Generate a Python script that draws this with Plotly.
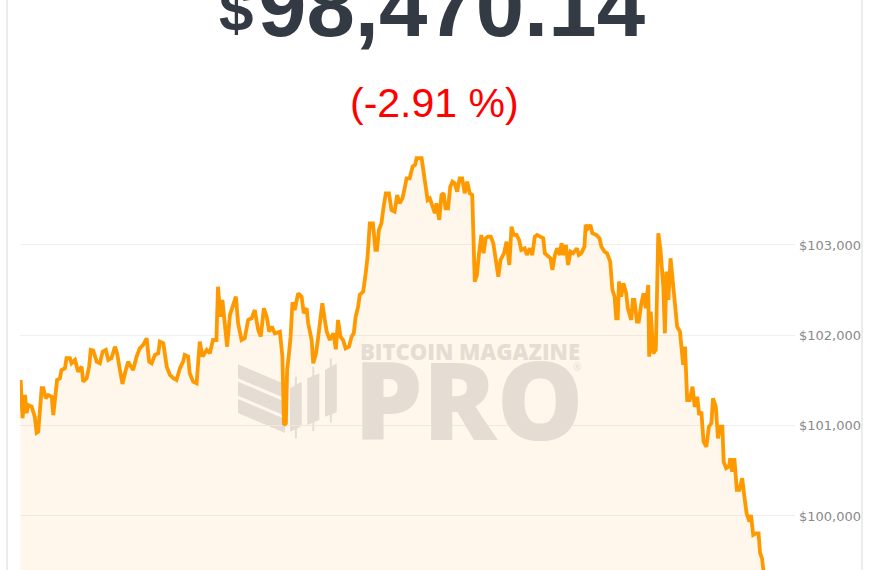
import plotly.graph_objects as go

# ---- data (hours since start, BTC price USD) ----
hours = [0.00, 0.06, 0.14, 0.19, 0.24, 0.35, 0.45, 0.51, 0.56, 0.67, 0.72, 0.80, 0.88, 0.99, 1.04, 1.09,
         1.16, 1.25, 1.30, 1.41, 1.46, 1.57, 1.62, 1.73, 1.83, 1.94, 1.99, 2.10, 2.18, 2.23, 2.31, 2.42,
         2.52, 2.61, 2.71, 2.79, 2.89, 3.00, 3.07, 3.16, 3.24, 3.32, 3.42, 3.58, 3.69, 3.79, 3.90, 4.01,
         4.09, 4.17, 4.27, 4.38, 4.43, 4.54, 4.65, 4.75, 4.86, 4.96, 5.07, 5.17, 5.22, 5.33, 5.38, 5.49,
         5.60, 5.70, 5.79, 5.92, 6.02, 6.12, 6.23, 6.28, 6.36, 6.42, 6.50, 6.57, 6.66, 6.76, 6.85, 6.92,
         7.03, 7.13, 7.24, 7.35, 7.45, 7.56, 7.64, 7.74, 7.83, 7.91, 7.99, 8.09, 8.25, 8.33, 8.38, 8.44,
         8.48, 8.54, 8.59, 8.65, 8.72, 8.83, 8.94, 9.01, 9.10, 9.15, 9.26, 9.31, 9.40, 9.47, 9.52, 9.60,
         9.68, 9.74, 9.84, 9.95, 10.03, 10.10, 10.18, 10.26, 10.34, 10.45, 10.53, 10.60, 10.66, 10.74,
         10.79, 10.90, 10.98, 11.04, 11.11, 11.21, 11.29, 11.34, 11.40, 11.48, 11.55, 11.62, 11.72, 11.80,
         11.90, 11.98, 12.06, 12.15, 12.22, 12.28, 12.38, 12.47, 12.55, 12.60, 12.76, 12.83, 12.89, 12.95,
         13.02, 13.10, 13.18, 13.23, 13.32, 13.39, 13.46, 13.52, 13.60, 13.67, 13.74, 13.81, 13.89, 13.97,
         14.05, 14.13, 14.21, 14.29, 14.37, 14.45, 14.52, 14.58, 14.66, 14.73, 14.80, 14.87, 14.96, 15.04,
         15.12, 15.20, 15.27, 15.38, 15.46, 15.55, 15.62, 15.69, 15.78, 15.86, 15.93, 16.04, 16.11, 16.20,
         16.28, 16.36, 16.43, 16.63, 16.68, 16.86, 16.92, 17.00, 17.07, 17.16, 17.21, 17.29, 17.35, 17.42,
         17.50, 17.58, 17.70, 17.76, 17.84, 17.94, 17.98, 18.05, 18.13, 18.19, 18.32, 18.42, 18.48, 18.58,
         18.66, 18.76, 18.83, 18.90, 18.95, 19.00, 19.04, 19.11, 19.18, 19.27, 19.32, 19.43, 19.48, 19.53,
         19.61, 19.67, 19.75, 19.82, 19.89, 19.97, 20.00, 20.05, 20.13, 20.21, 20.29, 20.36, 20.45, 20.50,
         20.55, 20.61, 20.68, 20.75, 20.82, 20.89, 20.98, 21.03, 21.08, 21.14, 21.21, 21.29, 21.38, 21.45,
         21.53, 21.59, 21.66, 21.73, 21.82, 21.90, 21.98, 22.03, 22.12, 22.19, 22.26, 22.33, 22.37, 22.45,
         22.54, 22.58, 22.64, 22.71, 22.79, 22.87, 22.96, 23.03, 23.10, 23.19, 23.24, 23.31, 23.40, 23.48,
         23.53, 23.59, 23.64, 23.80, 23.95]

prices = [101506, 101082, 101339, 101137, 101229, 101210, 101099, 100922, 100933, 101414, 101414, 101303,
          101339, 101321, 101118, 101321, 101506, 101524, 101616, 101635, 101746, 101746, 101690, 101727,
          101597, 101653, 101487, 101524, 101653, 101838, 101830, 101708, 101690, 101819, 101838, 101727,
          101746, 101874, 101801, 101616, 101461, 101580, 101708, 101616, 101764, 101856, 101893, 101967,
          101708, 101690, 101782, 101801, 101930, 101912, 101653, 101561, 101524, 101506, 101635, 101708,
          101782, 101764, 101580, 101487, 101469, 101930, 101764, 101838, 101801, 101948, 101948, 102538,
          102206, 102391, 102059, 101874, 102225, 102317, 102428, 102133, 101948, 101967, 102170, 102188,
          102280, 102059, 101985, 102299, 102206, 102040, 102096, 102022, 102040, 101764, 101007, 101026,
          101616, 101801, 101985, 102366, 102280, 102465, 102428, 102244, 102299, 102133, 101948, 101690,
          101801, 101985, 102151, 102355, 102170, 102040, 101948, 102022, 101845, 102170, 101985, 101948,
          101856, 101874, 101985, 102022, 102206, 102317, 102447, 102483, 102687, 102871, 103240, 103240,
          102945, 102945, 103166, 103240, 103424, 103572, 103572, 103387, 103369, 103553, 103461, 103517,
          103628, 103738, 103738, 103867, 103886, 103960, 103960, 103794, 103701, 103498, 103517, 103424,
          103351, 103461, 103277, 103553, 103572, 103406, 103406, 103645, 103701, 103683, 103590, 103738,
          103738, 103572, 103701, 103572, 103553, 102594, 102668, 102889, 103111, 102908, 103074, 103092,
          103092, 103019, 102834, 102649, 102834, 102908, 103037, 102779, 103203, 103111, 103111, 103055,
          102945, 102963, 102889, 102963, 102889, 103092, 103111, 103074, 102908, 102853, 102723, 102889,
          102963, 102889, 103019, 102889, 103000, 102779, 102926, 102908, 102963, 102889, 102908, 102981,
          103222, 103185, 103222, 103130, 103111, 103074, 102981, 102926, 102908, 102815, 102502, 102428,
          102188, 102188, 102594, 102428, 102576, 102465, 102299, 102170, 102391, 102391, 102151, 102151,
          102355, 102465, 102299, 102557, 101764, 102262, 101801, 101838, 103130, 102945, 102538, 102022,
          102705, 102391, 102853, 102576, 102280, 102096, 102040, 101874, 101672, 101874, 101284, 101284,
          101431, 101210, 101321, 101118, 101155, 100822, 100767, 100989, 101026, 101303, 101210, 100860,
          100989, 100989, 100601, 100528, 100546, 100639, 100490, 100639, 100288, 100288, 100417, 100214,
          100030, 99937, 100011, 99790, 99808, 99808, 99587, 99532, 99402, 99050, 98470.14]

tick_vals = [100000, 101000, 102000, 103000]
tick_text = ["$100,000", "$101,000", "$102,000", "$103,000"]
last_price_text = "98,470.14"
change_text = "(-2.91 %)"
watermark_top = "BITCOIN MAGAZINE"
watermark_main = "PRO"

# ---- layout geometry (pixels of the 870x570 page) ----
W, H = 870, 570
L, R, T, B = 20, 75, 140, 0
PW, PH = W - L - R, H - T - B


def px(x):
    return (x - L) / PW


def py(y):
    return (H - B - y) / PH


ORANGE = "#ff9900"

fig = go.Figure()
fig.add_trace(go.Scatter(
    x=hours, y=prices, mode="lines",
    line=dict(color=ORANGE, width=3.8),
    fill="tozeroy", fillcolor="rgba(255,153,0,0.08)",
    hoverinfo="skip", showlegend=False,
))

annotations = [
    dict(text="$", x=px(255), y=py(8), xanchor="right", yanchor="middle",
         font=dict(family="Liberation Sans, Arial", size=62, color="#343a44", weight="bold"),
         showarrow=False, xref="paper", yref="paper"),
    dict(text=last_price_text, x=px(256), y=py(6), xanchor="left", yanchor="middle",
         font=dict(family="Liberation Sans, Arial", size=87, color="#343a44", weight="bold"),
         showarrow=False, xref="paper", yref="paper"),
    dict(text=change_text, x=px(434), y=py(103), xanchor="center", yanchor="middle",
         font=dict(family="Liberation Sans, Arial", size=41, color="#ff0000"),
         showarrow=False, xref="paper", yref="paper"),
    dict(text=watermark_top, x=px(470), y=py(351), xanchor="center", yanchor="middle",
         font=dict(family="Open Sans", size=22, color="#e5ddd3", weight=800),
         showarrow=False, xref="paper", yref="paper"),
    dict(text=watermark_main, x=px(469), y=py(397), xanchor="center", yanchor="middle",
         font=dict(family="Open Sans", size=109, color="#e5ddd3", weight=800),
         showarrow=False, xref="paper", yref="paper"),
    dict(text="®", x=px(577), y=py(367), xanchor="center", yanchor="middle",
         font=dict(family="Open Sans", size=10, color="#e5ddd3"),
         showarrow=False, xref="paper", yref="paper"),
]

shapes = []
# card borders
for bx in (7, 862):
    shapes.append(dict(type="line", xref="paper", yref="paper", x0=px(bx), x1=px(bx),
                       y0=py(H + 5), y1=py(-5), line=dict(color="#ececec", width=2), layer="above"))

ICON = "#e3e3e5"


def poly(points):
    return "M " + " L ".join(f"{px(a):.5f},{py(b):.5f}" for a, b in points) + " Z"


# watermark logo: three slanted stripes
for top in (364.3, 381.7, 399.0):
    shapes.append(dict(type="path", xref="paper", yref="paper", layer="below",
                       path=poly([(238, top), (285, top + 20), (285, top + 34), (238, top + 14)]),
                       fillcolor=ICON, line=dict(width=0)))
# watermark logo: candlesticks
candles = [(290, 301.7, 388.3, 381.7, 431.7, 426.0, 376.7, 438.3),
           (307.3, 319.3, 378.3, 373.3, 425.0, 420.0, 366.7, 431.0),
           (325.0, 336.7, 370.0, 363.3, 416.7, 412.3, 358.3, 422.3)]
for x0, x1, tl, tr, bl, br, wt, wb in candles:
    shapes.append(dict(type="path", xref="paper", yref="paper", layer="below",
                       path=poly([(x0, tl), (x1, tr), (x1, br), (x0, bl)]),
                       fillcolor=ICON, line=dict(width=0)))
    xm = (x0 + x1) / 2
    shapes.append(dict(type="path", xref="paper", yref="paper", layer="below",
                       path=poly([(xm - 1, wt), (xm + 1, wt), (xm + 1, wb), (xm - 1, wb)]),
                       fillcolor=ICON, line=dict(width=0)))

fig.update_layout(
    width=W, height=H,
    margin=dict(l=L, r=R, t=T, b=B),
    paper_bgcolor="white", plot_bgcolor="white",
    showlegend=False,
    xaxis=dict(visible=False, range=[-0.02, 24.64], fixedrange=True),
    yaxis=dict(side="right", range=[99402, 104162], tickvals=tick_vals, ticktext=tick_text,
               showgrid=True, gridcolor="#efefef", gridwidth=1,
               zeroline=False, showline=False, ticks="", ticklabelstandoff=3,
               tickfont=dict(family="DejaVu Sans, Verdana", size=13, color="#8a8a8a"),
               automargin=False, fixedrange=True),
    annotations=annotations,
    shapes=shapes,
)

fig.write_html("out.html", config={"displayModeBar": False},
               post_script="document.body.style.margin='0';document.body.style.overflow='hidden';")
